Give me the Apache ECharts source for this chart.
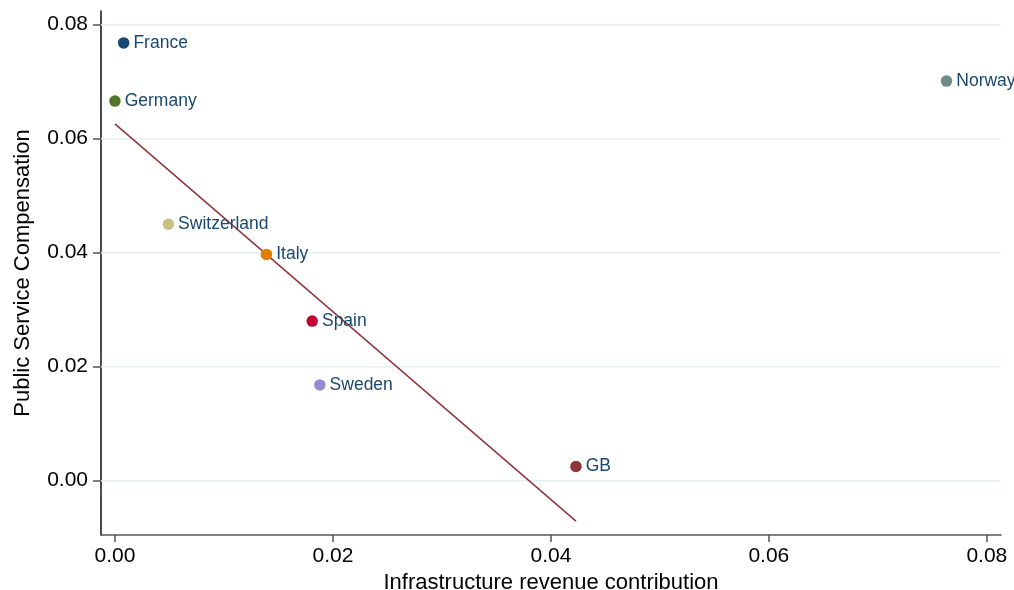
<!DOCTYPE html>
<html>
<head>
<meta charset="utf-8">
<script src="https://cdn.jsdelivr.net/npm/echarts@6/dist/echarts.min.js"></script>
<style>
  html, body { margin: 0; padding: 0; background: #ffffff; }
  #chart { width: 1014px; height: 590px; }
</style>
</head>
<body>
<div id="chart"></div>
<script>
// Countries and their (revenue contribution, public service compensation) values
const countries = ['France', 'Germany', 'Norway', 'Switzerland', 'Italy', 'Spain', 'Sweden', 'GB'];
const revenueContribution = [0.0008, 0.0000, 0.0763, 0.0049, 0.0139, 0.0181, 0.0188, 0.0423];
const serviceCompensation = [0.0768, 0.0666, 0.0701, 0.0450, 0.0397, 0.0280, 0.0168, 0.0025];
const markerColors = ['#1a476f', '#55752f', '#6e8e84', '#c8c17f', '#e37e00', '#c10534', '#938dd2', '#90353b'];

// Fitted line end points
const fitX = [0.0000, 0.0423];
const fitY = [0.0626, -0.0071];

// Tick values
const xTicks = [0, 0.02, 0.04, 0.06, 0.08];
const yTicks = [0, 0.02, 0.04, 0.06, 0.08];

// Axis extents
const xRange = [-0.00128, 0.0813];
const yRange = [-0.00953, 0.0824];

const font = '"Liberation Sans", Arial, Helvetica, sans-serif';

const points = countries.map((name, i) => ({
  name: name,
  value: [revenueContribution[i], serviceCompensation[i]],
  itemStyle: { color: markerColors[i], opacity: 1 }
}));

const fitLine = fitX.map((x, i) => [x, fitY[i]]);

// One horizontal grid line per y tick, spanning the full x extent
const gridLineSeries = yTicks.map(v => ({
  type: 'line',
  data: [[xRange[0], v], [xRange[1], v]],
  symbol: 'none',
  silent: true,
  z: 1,
  lineStyle: { color: '#e6eef1', width: 1.5 }
}));

const chart = echarts.init(document.getElementById('chart'), null, { renderer: 'canvas' });

chart.setOption({
  backgroundColor: '#ffffff',
  animation: false,
  grid: { left: 101, right: 13, top: 11, bottom: 55, containLabel: false, outerBoundsMode: 'none' },
  xAxis: {
    type: 'value',
    min: xRange[0],
    max: xRange[1],
    name: 'Infrastructure revenue contribution',
    nameLocation: 'middle',
    nameGap: 30,
    nameTextStyle: { fontFamily: font, fontSize: 22, color: '#000' },
    axisLine: { show: true, onZero: false, lineStyle: { color: '#555', width: 1.5 } },
    axisTick: { show: true, length: 7, customValues: xTicks, lineStyle: { color: '#555', width: 1.5 } },
    axisLabel: {
      customValues: xTicks,
      margin: 11,
      fontFamily: font, fontSize: 21, color: '#000',
      formatter: v => v.toFixed(2)
    },
    splitLine: { show: false }
  },
  yAxis: {
    type: 'value',
    min: yRange[0],
    max: yRange[1],
    name: 'Public Service Compensation',
    nameLocation: 'middle',
    nameGap: 67,
    nameTextStyle: { fontFamily: font, fontSize: 22, color: '#000' },
    axisLine: { show: true, onZero: false, lineStyle: { color: '#111', width: 1.5 } },
    axisTick: { show: true, length: 8, customValues: yTicks, lineStyle: { color: '#555', width: 1.5 } },
    axisLabel: {
      customValues: yTicks,
      margin: 13,
      fontFamily: font, fontSize: 21, color: '#000',
      formatter: v => v.toFixed(2)
    },
    splitLine: { show: false }
  },
  series: gridLineSeries.concat([
    {
      type: 'line',
      data: fitLine,
      symbol: 'none',
      silent: true,
      z: 2,
      lineStyle: { color: '#90353b', width: 1.5 }
    },
    {
      type: 'scatter',
      data: points,
      symbol: 'circle',
      symbolSize: 11.5,
      z: 3,
      itemStyle: { opacity: 1 },
      label: {
        show: true,
        position: 'right',
        distance: 4,
        formatter: p => p.name,
        fontFamily: font,
        fontSize: 17.5,
        color: '#1a476f'
      }
    }
  ])
});
</script>
</body>
</html>
